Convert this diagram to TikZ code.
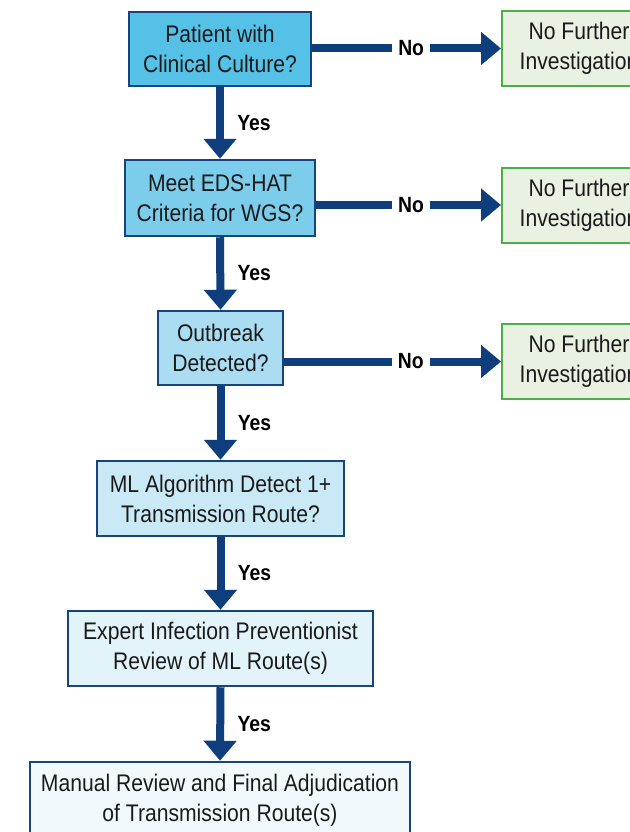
\documentclass[tikz,border=0pt]{standalone}
\usepackage{fontspec}
\setmainfont[FakeStretch=0.88]{Liberation Sans}
\usetikzlibrary{arrows.meta}
\definecolor{navy}{HTML}{0E3E7B}
\definecolor{bdr}{HTML}{17437F}
\definecolor{fa}{HTML}{55C1E6}
\definecolor{fb}{HTML}{7BCDEB}
\definecolor{fc}{HTML}{AADDF1}
\definecolor{fd}{HTML}{CAE9F6}
\definecolor{fe}{HTML}{E2F3FA}
\definecolor{ff}{HTML}{F2F9FD}
\definecolor{gbd}{HTML}{4DAE48}
\definecolor{gfill}{HTML}{E9F1E2}
\definecolor{txt}{HTML}{1A1A1A}
\begin{document}
\begin{tikzpicture}[x=1pt,y=-1pt,
  box/.style={draw=bdr,line width=2.5pt,align=center,text=txt,inner sep=0pt,
    font=\fontsize{24}{30}\selectfont},
  gbox/.style={draw=gbd,fill=gfill,line width=2pt,align=center,text=txt,inner sep=0pt,
    minimum width=154pt,minimum height=75pt,font=\fontsize{24}{30}\selectfont},
  flow/.style={draw=navy,line width=8pt,-{Triangle[width=32pt,length=20pt]}},
  yeslab/.style={right,xshift=10pt,font=\bfseries\fontsize{22}{26}\selectfont,text=black},
  nolab/.style={fill=white,inner xsep=6pt,inner ysep=4pt,font=\bfseries\fontsize{22}{26}\selectfont,text=black}
]
\useasboundingbox[fill=white] (0,0) rectangle (629,832);
\node[box,fill=fa,minimum width=182pt,minimum height=74pt] (b1) at (220,49) {Patient with\\Clinical Culture?};
\node[box,fill=fb,minimum width=190pt,minimum height=76pt] (b2) at (220,198) {Meet EDS-HAT\\Criteria for WGS?};
\node[box,fill=fc,minimum width=125pt,minimum height=74pt] (b3) at (220.5,348) {Outbreak\\Detected?};
\node[box,fill=fd,minimum width=247pt,minimum height=75pt] (b4) at (220.5,498.5) {ML Algorithm Detect 1+\\Transmission Route?};
\node[box,fill=fe,minimum width=305pt,minimum height=75pt] (b5) at (220.5,648.5) {Expert Infection Preventionist\\Review of ML Route(s)};
\node[box,fill=ff,minimum width=380pt,minimum height=76pt] (b6) at (220,800) {Manual Review and Final Adjudication\\of Transmission Route(s)};
\node[gbox] (r1) at (579,48.5) {No Further\\Investigation};
\node[gbox] (r2) at (579,205) {No Further\\Investigation};
\node[gbox] (r3) at (579,361.5) {No Further\\Investigation};
\draw[flow] (b1.south) -- node[yeslab]{Yes} (b2.north);
\draw[flow] (b2.south) -- node[yeslab]{Yes} (b3.north);
\draw[flow] (b3.south) -- node[yeslab]{Yes} (b4.north);
\draw[flow] (b4.south) -- node[yeslab]{Yes} (b5.north);
\draw[flow] (b5.south) -- node[yeslab]{Yes} (b6.north);
\draw[flow] (b1.east |- r1) -- node[nolab,pos=0.524]{No} (r1.west);
\draw[flow] (b2.east |- r2) -- node[nolab,pos=0.513]{No} (r2.west);
\draw[flow] (b3.east |- r3) -- node[nolab,pos=0.584]{No} (r3.west);
\end{tikzpicture}
\end{document}
